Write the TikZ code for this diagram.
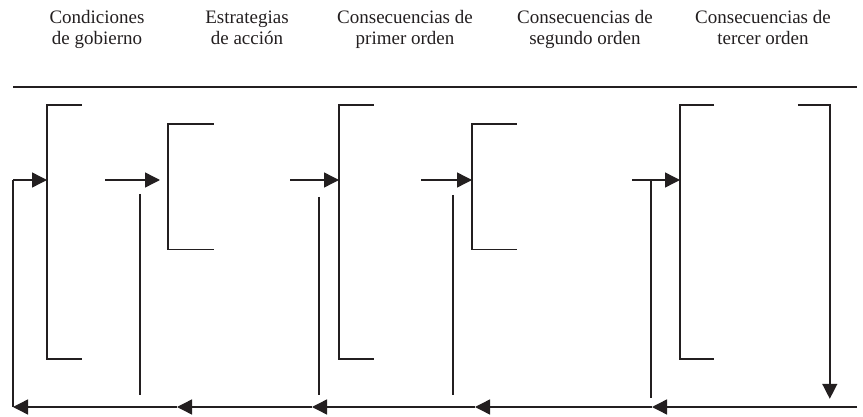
\documentclass[tikz,border=0pt]{standalone}
\usepackage{fontspec}
\setmainfont{Liberation Serif}
\usetikzlibrary{arrows.meta}
\definecolor{ink}{HTML}{231F20}

\begin{document}
\begin{tikzpicture}[x=0.5pt, y=-0.5pt,
      every node/.style={font=\fontsize{9.5}{10.5}\selectfont, text=ink},
      heading/.style={align=center, inner sep=0pt, anchor=base},
      frame/.style={inner sep=0pt, anchor=north west},
      rule/.style={draw=ink, line width=0.7pt},
      flow/.style={rule, -{Triangle[length=7.5pt, width=7.5pt]}}]
    \useasboundingbox (0,0) rectangle (863,417);
    % headings
    \node[heading] (h1) at (97,45) {Condiciones\\de gobierno};
    \node[heading] (h2) at (247,45) {Estrategias\\de acción};
    \node[heading] (h3) at (405,45) {Consecuencias de\\primer orden};
    \node[heading] (h4) at (585,45) {Consecuencias de\\segundo orden};
    \node[heading] (h5) at (763,45) {Consecuencias de\\tercer orden};
    \draw[rule, line width=1pt] (13,87) -- (857,87);
    % bracket frames
    \node[frame, minimum width=17pt, minimum height=126.5pt] (c1) at (47,105) {};
    \node[frame, minimum width=22.5pt, minimum height=62.5pt] (c2) at (168,124) {};
    \node[frame, minimum width=17pt, minimum height=126.5pt] (c3) at (339,105) {};
    \node[frame, minimum width=22pt, minimum height=62.5pt] (c4) at (472,124) {};
    \node[frame, minimum width=74.5pt, minimum height=126.5pt] (c5) at (680,105) {};
    \foreach \n in {c1,c2,c3,c4}
      \draw[rule] (\n.north east) -- (\n.north west) -- (\n.south west) -- (\n.south east);
    \draw[rule] ([xshift=17pt]c5.north west) -- (c5.north west) -- (c5.south west)
      -- ([xshift=17pt]c5.south west);
    \draw[flow] ([xshift=-16pt]c5.north east) -- (c5.north east) -- ([yshift=-20pt]c5.south east);
    % inputs
    \coordinate (s1) at (13,180);
    \coordinate (s2) at (105,180);
    \coordinate (s3) at (290,180);
    \coordinate (s4) at (421,180);
    \coordinate (s5) at (632,180);
    \draw[flow] (s1) -- (c1.west |- s1);
    \draw[flow, shorten >=4pt] (s2) -- (c2.west |- s2);
    \draw[flow] (s3) -- (c3.west |- s3);
    \draw[flow] (s4) -- (c4.west |- s4);
    \draw[flow] (s5) -- (c5.west |- s5);
    \foreach \x/\y in {140/194, 319/197, 453/195}
      \draw[rule] (\x,\y) -- (\x,395);
    \draw[rule] (651,180) -- (651,398);
    % feedback
    \foreach \x [count=\i] in {857,652,475,312,177,13}
      \coordinate (r\i) at (\x,407);
    \foreach \i [evaluate=\i as \j using int(\i+1)] in {1,...,5}
      \draw[flow] (r\i) -- (r\j);
    \draw[rule] (r6) -- (s1);
\end{tikzpicture}
\end{document}
